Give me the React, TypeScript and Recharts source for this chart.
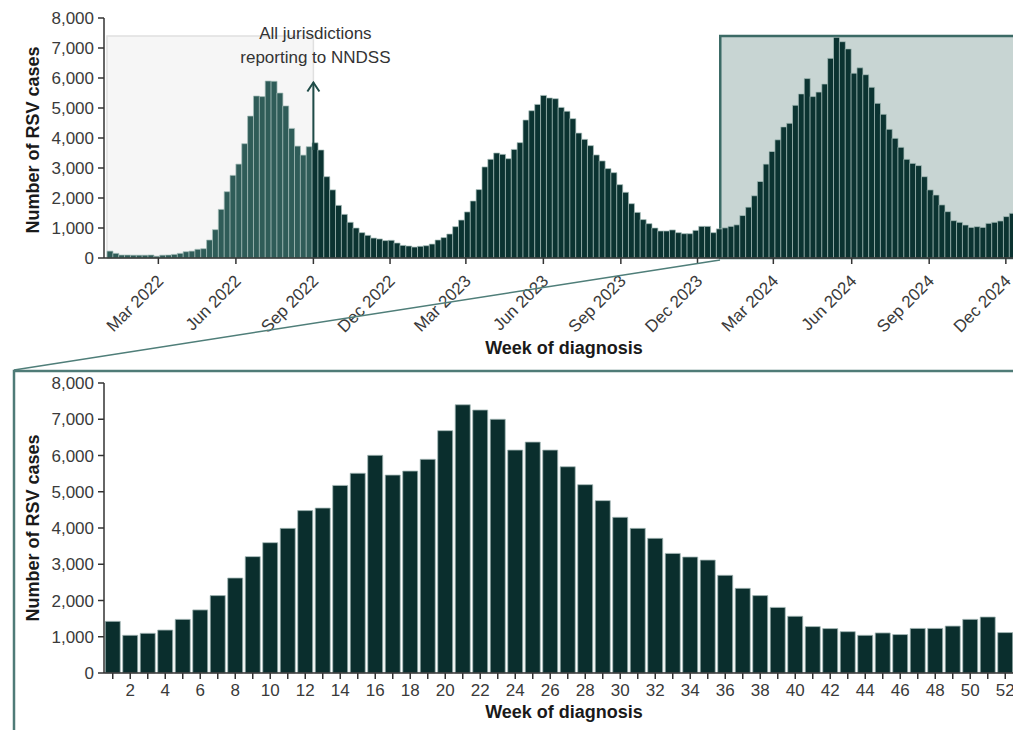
import React from 'react';
import { BarChart, Bar, XAxis, YAxis, Cell, ReferenceArea, ReferenceLine, ReferenceDot } from 'recharts';

// ---- Data ----
// Weekly RSV notifications, overview panel (52 weeks per year)
const weeks2022 = [
  230, 155, 100, 100, 95, 95, 95, 100, 60, 95, 100, 120, 155, 210, 230, 290, 310, 600, 945, 1620,
  2210, 2755, 3130, 3810, 4730, 5400, 5380, 5900, 5890, 5500, 5070, 4320, 3730, 3430, 3710, 3840,
  3600, 2710, 2270, 1755, 1455, 1190, 1000, 845, 755, 665, 635, 580, 590, 500, 420, 400,
];
const weeks2023 = [
  365, 390, 410, 465, 600, 680, 800, 1045, 1265, 1535, 1900, 2280, 3035, 3290, 3500, 3455, 3310,
  3620, 3845, 4600, 4910, 5120, 5420, 5335, 5310, 5020, 4890, 4645, 4165, 3955, 3745, 3435, 3235,
  2980, 2845, 2445, 2190, 1810, 1520, 1280, 1145, 1000, 900, 900, 935, 845, 810, 810, 920, 1055,
  1055, 845,
];
const weeks2024Overview = [
  970, 1005, 1055, 1105, 1415, 1695, 2075, 2550, 3130, 3550, 3940, 4370, 4490, 5090, 5470, 5980,
  5380, 5530, 5800, 6655, 7355, 7210, 6970, 6160, 6340, 6110, 5690, 5155, 4790, 4290, 3990, 3690,
  3290, 3155, 3080, 2710, 2270, 2100, 1770, 1545, 1245, 1190, 1100, 1020, 1045, 1020, 1155, 1190,
  1235, 1380, 1490, 1080,
];
// Zoomed 2024 panel, weeks 1..52
const weeks2024Detail = [
  1425, 1040, 1095, 1185, 1480, 1740, 2135, 2620, 3210, 3595, 3990, 4480, 4550, 5175, 5510, 6005,
  5460, 5570, 5895, 6685, 7400, 7255, 7000, 6150, 6370, 6150, 5690, 5195, 4755, 4295, 3990, 3715,
  3300, 3200, 3115, 2695, 2335, 2135, 1810, 1565, 1280, 1225, 1140, 1040, 1105, 1060, 1230, 1230,
  1295, 1480, 1545, 1115,
];
// Month ticks of the overview axis, in weeks since the start of the series
const monthTickWeeks = [8.71, 21.86, 35, 48, 60.86, 74, 87.14, 100.14, 113, 126.29, 139.43, 152.43];
const monthTickLabels = [
  'Mar 2022', 'Jun 2022', 'Sep 2022', 'Dec 2022', 'Mar 2023', 'Jun 2023',
  'Sep 2023', 'Dec 2023', 'Mar 2024', 'Jun 2024', 'Sep 2024', 'Dec 2024',
];
const yTicks = [0, 1000, 2000, 3000, 4000, 5000, 6000, 7000, 8000];
const allJurisdictionsWeek = 35; // from this week all jurisdictions report to NNDSS
const zoomStartWeek = 104; // first week of 2024
const totalWeeks = 156;
const zoomPeak = 7400;
const arrowFrom = 3600;
const arrowTip = 5850;
const annotationY = 7300;
const annotationLines = ['All jurisdictions', 'reporting to NNDSS'];

const overviewData = [...weeks2022, ...weeks2023, ...weeks2024Overview].map((cases, i) => ({ idx: i, cases }));
const detailData = weeks2024Detail.map((cases, i) => ({ week: i + 1, cases }));

const FONT = '"Liberation Sans", Arial, Helvetica, sans-serif';
const AXIS = '#333333';
const TICK_TEXT = '#3a3a3a';
const fmt = (v: number) => v.toLocaleString('en-US');

const MonthTick = (props: any) => {
  const { x, y, payload, index } = props;
  let i = monthTickWeeks.indexOf(payload?.value);
  if (i < 0) i = index;
  const ax = x + 6;
  const ay = y + 16;
  return (
    <text x={ax} y={ay} transform={`rotate(-45 ${ax} ${ay})`} textAnchor="end" fontSize={17} fill={TICK_TEXT} fontFamily={FONT}>
      {monthTickLabels[i]}
    </text>
  );
};

const WeekTick = (props: any) => {
  const { x, y, payload } = props;
  if (Number(payload.value) % 2 !== 0) return <g />;
  return (
    <text x={x} y={y + 15} textAnchor="middle" fontSize={17} fill={TICK_TEXT} fontFamily={FONT}>
      {payload.value}
    </text>
  );
};

const ArrowHead = (props: any) => {
  const { cx, cy } = props;
  return (
    <path d={`M${cx - 6},${cy + 9} L${cx},${cy} L${cx + 6},${cy + 9}`} fill="none" stroke="#1f4c48" strokeWidth={2} />
  );
};

const Annotation = (props: any) => {
  const { cx, cy } = props;
  return (
    <g>
      {annotationLines.map((t, i) => (
        <text key={t} x={cx + 2} y={cy + i * 24} textAnchor="middle" fontSize={17} fill="#333" fontFamily={FONT}>
          {t}
        </text>
      ))}
    </g>
  );
};

export default function App() {
  return (
    <div style={{ position: 'relative', width: 1013, height: 730, overflow: 'hidden', background: '#fff' }}>
      <style>{'body{margin:0;overflow:hidden}'}</style>
      <div style={{ position: 'absolute', left: 0, top: 0 }}>
        <BarChart width={1021} height={365} data={overviewData} margin={{ top: 18, right: 0, left: 0, bottom: 0 }} barCategoryGap={0}>
          <XAxis
            xAxisId="num"
            type="number"
            domain={[0, totalWeeks]}
            allowDataOverflow
            ticks={monthTickWeeks}
            interval={0}
            padding={{ left: 3, right: 0 }}
            height={107}
            tickSize={6}
            tickMargin={2}
            tickLine={{ stroke: AXIS, strokeWidth: 1.5 }}
            axisLine={{ stroke: AXIS, strokeWidth: 1.5 }}
            tick={<MonthTick />}
          />
          <XAxis xAxisId="cat" dataKey="idx" hide height={0} padding={{ left: 3, right: 0 }} />
          <YAxis
            domain={[0, 8000]}
            ticks={yTicks}
            interval={0}
            width={104}
            tickFormatter={fmt}
            tickSize={6}
            tickMargin={4}
            tickLine={{ stroke: AXIS, strokeWidth: 1.5 }}
            axisLine={{ stroke: AXIS, strokeWidth: 1.5 }}
            tick={{ fontSize: 17, fill: TICK_TEXT, fontFamily: FONT }}
          />
          <ReferenceArea xAxisId="num" x1={0} x2={allJurisdictionsWeek} y1={0} y2={zoomPeak} fill="#f6f6f6" fillOpacity={1} stroke="#e0e0e0" strokeWidth={1.5} ifOverflow="visible" />
          <ReferenceArea xAxisId="num" x1={zoomStartWeek} x2={totalWeeks} y1={0} y2={zoomPeak} fill="#c8d5d3" fillOpacity={1} stroke="#3b6a65" strokeWidth={2.5} ifOverflow="visible" />
          <Bar xAxisId="cat" dataKey="cases" isAnimationActive={false} stroke="#a9c0bc" strokeWidth={0.7}>
            {overviewData.map((d) => (
              <Cell key={d.idx} fill={d.idx < allJurisdictionsWeek ? '#2f5c58' : '#0b3331'} />
            ))}
          </Bar>
          <ReferenceLine
            xAxisId="num"
            segment={[{ x: allJurisdictionsWeek, y: arrowFrom }, { x: allJurisdictionsWeek, y: arrowTip }]}
            stroke="#1f4c48"
            strokeWidth={2}
            ifOverflow="visible"
          />
          <ReferenceDot xAxisId="num" x={allJurisdictionsWeek} y={arrowTip} r={6} shape={<ArrowHead />} ifOverflow="visible" />
          <ReferenceDot xAxisId="num" x={allJurisdictionsWeek} y={annotationY} r={1} shape={<Annotation />} ifOverflow="visible" />
        </BarChart>
      </div>
      <div style={{ position: 'absolute', left: 0, top: 370 }}>
        <BarChart width={1014} height={360} data={detailData} margin={{ top: 13, right: 0, left: 0, bottom: 0 }} barCategoryGap="7%">
          <XAxis
            dataKey="week"
            interval={0}
            height={57}
            tickSize={6}
            tickMargin={2}
            tickLine={{ stroke: AXIS, strokeWidth: 1.5 }}
            axisLine={{ stroke: AXIS, strokeWidth: 1.5 }}
            tick={<WeekTick />}
          />
          <YAxis
            domain={[0, 8000]}
            ticks={yTicks}
            interval={0}
            width={104}
            tickFormatter={fmt}
            tickSize={6}
            tickMargin={4}
            tickLine={{ stroke: AXIS, strokeWidth: 1.5 }}
            axisLine={{ stroke: AXIS, strokeWidth: 1.5 }}
            tick={{ fontSize: 17, fill: TICK_TEXT, fontFamily: FONT }}
          />
          <Bar dataKey="cases" fill="#0a2e2d" stroke="#a3b8b5" strokeWidth={0.8} isAnimationActive={false} />
        </BarChart>
      </div>
      <svg width={1013} height={730} style={{ position: 'absolute', left: 0, top: 0, pointerEvents: 'none' }}>
        <line x1={14} y1={370} x2={720} y2={260} stroke="#4f7e79" strokeWidth={1.5} />
        <path d="M14,730 L14,371 L1013,371" fill="none" stroke="#4f7b77" strokeWidth={2.5} />
        <text x={33} y={140} transform="rotate(-90 33 140)" textAnchor="middle" dominantBaseline="central" fontSize={18} fontWeight="bold" fill="#1a1a1a" fontFamily={FONT}>
          Number of RSV cases
        </text>
        <text x={564} y={348} textAnchor="middle" dominantBaseline="central" fontSize={18} fontWeight="bold" fill="#1a1a1a" fontFamily={FONT}>
          Week of diagnosis
        </text>
        <text x={33} y={528} transform="rotate(-90 33 528)" textAnchor="middle" dominantBaseline="central" fontSize={18} fontWeight="bold" fill="#1a1a1a" fontFamily={FONT}>
          Number of RSV cases
        </text>
        <text x={564} y={712} textAnchor="middle" dominantBaseline="central" fontSize={18} fontWeight="bold" fill="#1a1a1a" fontFamily={FONT}>
          Week of diagnosis
        </text>
      </svg>
    </div>
  );
}
